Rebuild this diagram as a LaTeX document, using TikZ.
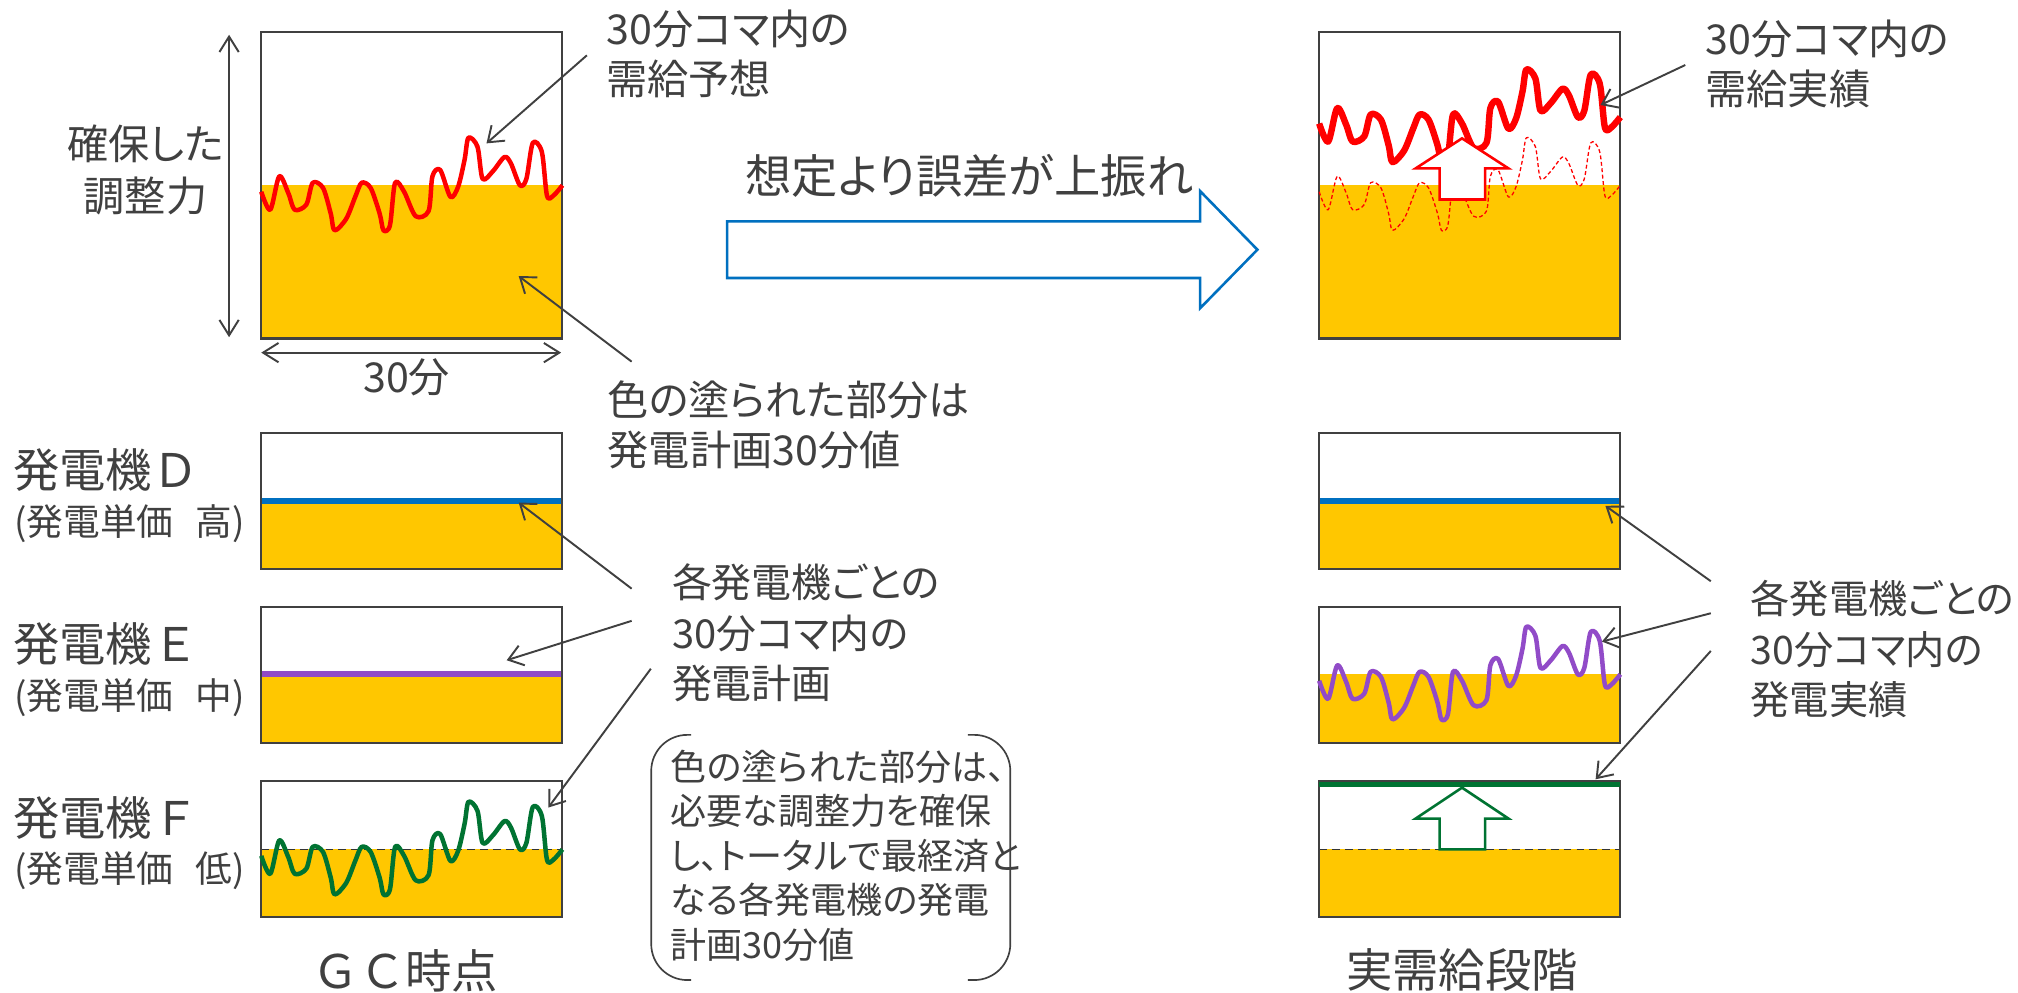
\documentclass[tikz,border=0pt]{standalone}
\usepackage{fontspec}
\setmainfont{Noto Sans CJK JP}
\newfontfamily\jp[RawFeature=+palt]{Noto Sans CJK JP}
\newfontfamily\jpf{Noto Sans CJK JP}
\usetikzlibrary{arrows.meta}
\definecolor{txt}{HTML}{404040}
\definecolor{boxc}{HTML}{404040}
\definecolor{gold}{RGB}{255,199,0}
\definecolor{bblue}{HTML}{0070C0}
\definecolor{ppl}{RGB}{145,75,200}
\definecolor{dgreen}{RGB}{0,115,50}
\definecolor{rred}{RGB}{255,0,0}
\tikzset{
  wave/.pic={\draw[line join=round] plot[smooth, tension=0.5] coordinates {(0,5) (7,19) (14,-7) (21,6) (26,19) (35,15) (40,-2) (48,2) (54,22) (57,35) (66,26) (73,9) (78,-2) (85,2) (92,22) (95,35) (100,31) (104,-2) (111,5) (120,24) (130,20) (133,-7) (139,-12) (147,9) (153,1) (158,-20) (161,-37) (168,-30) (172,-5) (180,-11) (189,-22) (194,-17) (201,0) (206,-5) (211,-33) (218,-26) (222,8) (227,8) (234,0)};}
}
\begin{document}
\begin{tikzpicture}[x=1pt,y=-1pt,
  lbl/.style={inner sep=0pt, text=txt, anchor=base west, font=\jp\fontsize{32}{39}\selectfont},
  boxline/.style={draw=boxc, line width=1.6pt},
  callout/.style={draw=txt, line width=1.5pt, -{Straight Barb[length=11pt,width=16pt]}},
  dimarrow/.style={draw=txt, line width=1.5pt, {Straight Barb[length=12pt,width=15pt]}-{Straight Barb[length=12pt,width=15pt]}},
  dashline/.style={draw=black!80, line width=1.3pt, dash pattern=on 6pt off 4pt}]
\useasboundingbox (0,0) rectangle (1568,771);
\fill[white] (0,0) rectangle (1568,771);

% ---------- left top box ----------
\fill[gold] (203,144) rectangle (437,263);
\draw[boxline] (203,25) rectangle (437,263);
\pic[rred, line width=3.5pt] at (203,144) {wave};

% ---------- left D ----------
\fill[gold] (203,389.5) rectangle (437,442);
\draw[bblue, line width=4.5pt] (203,389.5) -- (437,389.5);
\draw[boxline] (203,336.5) rectangle (437,442);
% ---------- left E ----------
\fill[gold] (203,524) rectangle (437,577.5);
\draw[ppl, line width=4.5pt] (203,524) -- (437,524);
\draw[boxline] (203,471.5) rectangle (437,577.5);
% ---------- left F ----------
\fill[gold] (203,660) rectangle (437,712.5);
\draw[dashline] (203,660) -- (437,660);
\draw[boxline] (203,607) rectangle (437,712.5);
\pic[dgreen, line width=3.5pt] at (203,660) {wave};

% ---------- right top box ----------
\fill[gold] (1025,144) rectangle (1259,263);
\draw[boxline] (1025,25) rectangle (1259,263);
\pic[rred, line width=1pt, dash pattern=on 3pt off 2pt] at (1025,144) {wave};
\pic[rred, line width=5pt] at (1025,91) {wave};
\draw[rred, line width=2pt, fill=white, line join=miter]
  (1136,107.5) -- (1172,130.8) -- (1154,130.8) -- (1154,155) -- (1118.6,155) -- (1118.6,130.8) -- (1100,130.8) -- cycle;

% ---------- right D ----------
\fill[gold] (1025,389.5) rectangle (1259,442);
\draw[bblue, line width=4.5pt] (1025,389.5) -- (1259,389.5);
\draw[boxline] (1025,336.5) rectangle (1259,442);
% ---------- right E ----------
\fill[gold] (1025,524) rectangle (1259,577.5);
\draw[boxline] (1025,471.5) rectangle (1259,577.5);
\pic[ppl, line width=3.5pt] at (1025,524) {wave};
% ---------- right F ----------
\fill[gold] (1025,660) rectangle (1259,712.5);
\draw[dashline] (1025,660) -- (1259,660);
\draw[boxline] (1025,607) rectangle (1259,712.5);
\draw[dgreen, line width=4.5pt] (1025,609.5) -- (1259,609.5);
\draw[dgreen, line width=2pt, fill=white, line join=miter]
  (1136,612) -- (1172,636) -- (1154,636) -- (1154,660) -- (1118.6,660) -- (1118.6,636) -- (1100,636) -- cycle;

% ---------- big blue arrow ----------
\draw[bblue, line width=2pt, fill=white, line join=miter]
  (565,172) -- (932.5,172) -- (932.5,148.5) -- (977,194) -- (932.5,239.5) -- (932.5,216) -- (565,216) -- cycle;

% ---------- dimension arrows ----------
\coordinate (vtop) at (178,27);
\coordinate (vbot) at (178,262);
\draw[dimarrow] (vtop) -- (vbot);
\coordinate (hl) at (203,274);
\coordinate (hr) at (436,274);
\draw[dimarrow] (hl) -- (hr);

% ---------- texts ----------
\node[lbl] (yoso) at (471,34.5) {\vtop{\hbox{30分コマ内の}\hbox{需給予想}}};
\node[lbl] (jisseki) at (1325,42.5) {\vtop{\hbox{30分コマ内の}\hbox{需給実績}}};
\node[lbl, anchor=base] (kakuho1) at (113,124) {確保した};
\node[lbl, anchor=base] (kakuho2) at (113,164) {調整力};
\node[lbl, anchor=base] (sanjuppun) at (316,305) {30分};
\node[lbl] (nurare) at (472,322.5) {\vtop{\hbox{色の塗られた部分は}\hbox{発電計画30分値}}};
\node[lbl, font=\jp\fontsize{31}{39}\selectfont] (keikaku) at (522,464.5) {\vtop{\hbox{各発電機ごとの}\hbox{30分コマ内の}\hbox{発電計画}}};
\node[lbl, font=\jp\fontsize{30.5}{39.5}\selectfont] (jisseki2) at (1360,476.5) {\vtop{\hbox{各発電機ごとの}\hbox{30分コマ内の}\hbox{発電実績}}};
\node[lbl, font=\jp\fontsize{36}{40}\selectfont] (uebure) at (579,150.5) {想定より誤差が上振れ};

\node[lbl, font=\jpf\fontsize{36}{40}\selectfont] (genD) at (10,379) {発電機Ｄ};
\node[lbl, font=\jp\fontsize{28.5}{34}\selectfont] (tanD) at (11,416) {(発電単価\hspace{0.6em}高)};
\node[lbl, font=\jpf\fontsize{36}{40}\selectfont] (genE) at (10,514) {発電機Ｅ};
\node[lbl, font=\jp\fontsize{28.5}{34}\selectfont] (tanE) at (11,551) {(発電単価\hspace{0.6em}中)};
\node[lbl, font=\jpf\fontsize{36}{40}\selectfont] (genF) at (10,649) {発電機Ｆ};
\node[lbl, font=\jp\fontsize{28.5}{34}\selectfont] (tanF) at (11,686) {(発電単価\hspace{0.6em}低)};

\node[lbl, anchor=base, font=\jpf\fontsize{36}{40}\selectfont] (gc) at (315,768) {ＧＣ時点};
\node[lbl, anchor=base, font=\jp\fontsize{36}{40}\selectfont] (jitsu) at (1136,767) {実需給段階};

% bracket box
\draw[txt, line width=1.3pt, rounded corners=28pt] (537,571) -- (506,571) -- (506,761.5) -- (537,761.5);
\draw[txt, line width=1.3pt, rounded corners=28pt] (752,571) -- (785,571) -- (785,761.5) -- (752,761.5);
\node[lbl, font=\jp\fontsize{28}{34.5}\selectfont] (setsumei) at (521,606.5)
  {\vtop{\hbox{色の塗られた部分は、}\hbox{必要な調整力を確保}\hbox{し、トータルで最経済と}\hbox{なる各発電機の発電}\hbox{計画30分値}}};

% ---------- callouts ----------
\coordinate (c1s) at (456,43);     \coordinate (c1e) at (378,111.4);
\coordinate (c2s) at (490.8,281);  \coordinate (c2e) at (403,214.5);
\coordinate (c3s) at (490.8,457.4); \coordinate (c3e) at (403,390.5);
\coordinate (c4s) at (490.8,482.4); \coordinate (c4e) at (393.7,513);
\coordinate (c5s) at (505.7,519.6); \coordinate (c5e) at (426,627.5);
\coordinate (c6s) at (1309.5,50.5); \coordinate (c6e) at (1243.6,81.6);
\coordinate (c7s) at (1329.3,451.6); \coordinate (c7e) at (1247.4,393);
\coordinate (c8s) at (1329.3,476.5); \coordinate (c8e) at (1244.7,498.5);
\coordinate (c9s) at (1329.3,505.8); \coordinate (c9e) at (1239.8,605.5);
\foreach \i in {1,...,9} {\draw[callout] (c\i s) -- (c\i e);}
\end{tikzpicture}
\end{document}
